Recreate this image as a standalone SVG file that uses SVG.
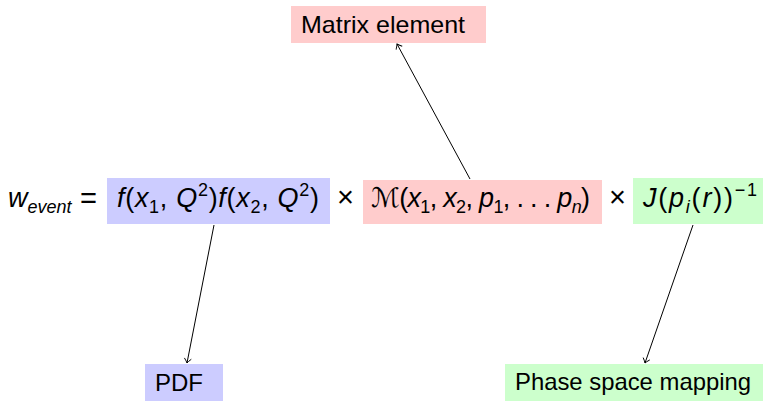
<svg xmlns="http://www.w3.org/2000/svg" width="767" height="402" viewBox="0 0 767 402">
<style>
text{font-family:"Liberation Sans","DejaVu Sans",sans-serif;fill:#000;}
.m{font-size:27px;}
.op{font-size:29px;}
.i{font-style:italic;}
.s{font-size:18px;}
.lbl{font-size:24px;}
.blue{fill:#ccccff;}
.red{fill:#ffcccc;}
.green{fill:#ccffcc;}
.edge{stroke:#000;stroke-width:1;fill:none;}
</style>
<defs>
<marker id="tip" markerUnits="userSpaceOnUse" markerWidth="12" markerHeight="12" viewBox="-6 -6 12 12" refX="0" refY="0" orient="auto">
<path d="M-4.5,-3.5 Q-1.5,-0.8 0,0 Q-1.5,0.8 -4.5,3.5" stroke="#000" stroke-width="0.9" fill="none"/>
</marker>
</defs>
<g id="lhs">
<text class="m" x="8" y="207"><tspan class="i">w</tspan><tspan class="s i" dy="6">event</tspan></text>
<text class="op" x="80" y="208" textLength="17" lengthAdjust="spacingAndGlyphs">=</text>
<text class="op" x="337" y="207">×</text>
<text class="op" x="609" y="207">×</text>
</g>
<g id="pdf-term">
<rect class="blue" x="107" y="178" width="223" height="46"/>
<text class="m" x="117" y="207" textLength="202" lengthAdjust="spacing"><tspan class="i">f</tspan><tspan>(</tspan><tspan class="i">x</tspan><tspan class="s" dy="6">1</tspan><tspan dy="-6">, </tspan><tspan class="i">Q</tspan><tspan class="s" dy="-11">2</tspan><tspan dy="11">)</tspan><tspan class="i">f</tspan><tspan>(</tspan><tspan class="i">x</tspan><tspan class="s" dy="6">2</tspan><tspan dy="-6">, </tspan><tspan class="i">Q</tspan><tspan class="s" dy="-11">2</tspan><tspan dy="11">)</tspan></text>
</g>
<g id="matrix-term">
<rect class="red" x="363" y="180" width="239" height="44"/>
<text class="m" x="371" y="207" textLength="219" lengthAdjust="spacing"><tspan>ℳ(</tspan><tspan class="i">x</tspan><tspan class="s" dy="6">1</tspan><tspan dy="-6">, </tspan><tspan class="i">x</tspan><tspan class="s" dy="6">2</tspan><tspan dy="-6">, </tspan><tspan class="i">p</tspan><tspan class="s" dy="6">1</tspan><tspan dy="-6">, . . . </tspan><tspan class="i">p</tspan><tspan class="s i" dy="6">n</tspan><tspan dy="-6">)</tspan></text>
</g>
<g id="jacobian-term">
<rect class="green" x="633" y="178" width="130" height="46"/>
<text class="m" x="643" y="207" textLength="114" lengthAdjust="spacing"><tspan class="i">J</tspan><tspan>(</tspan><tspan class="i">p</tspan><tspan class="s i" dy="6">i</tspan><tspan dy="-6">(</tspan><tspan class="i">r</tspan><tspan>))</tspan><tspan class="s" dy="-11">−1</tspan></text>
</g>
<g id="matrix-element">
<rect class="red" x="291" y="6" width="195" height="37"/>
<text class="lbl" x="301" y="33" textLength="164" lengthAdjust="spacingAndGlyphs">Matrix element</text>
</g>
<g id="pdf">
<rect class="blue" x="145" y="364" width="78" height="37"/>
<text class="lbl" x="155" y="391" textLength="48" lengthAdjust="spacingAndGlyphs">PDF</text>
</g>
<g id="phase-space">
<rect class="green" x="505" y="364" width="258" height="37"/>
<text class="lbl" x="515" y="390" textLength="236" lengthAdjust="spacingAndGlyphs">Phase space mapping</text>
</g>
<g id="connectors">
<line class="edge" x1="470" y1="179" x2="397" y2="44" marker-end="url(#tip)"/>
<line class="edge" x1="214" y1="225" x2="187" y2="363" marker-end="url(#tip)"/>
<line class="edge" x1="693" y1="225" x2="645" y2="363" marker-end="url(#tip)"/>
</g>
</svg>
